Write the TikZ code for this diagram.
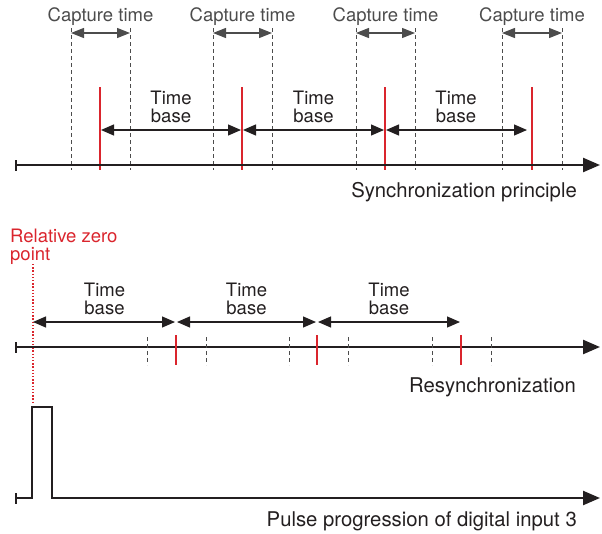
\documentclass[tikz,border=0pt]{standalone}
\usepackage{fontspec}
\setmainfont{TeX Gyre Heros}
\usetikzlibrary{arrows.meta,positioning}
\definecolor{ink}{RGB}{35,31,32}
\definecolor{syncred}{RGB}{218,37,45}

\begin{document}
\begin{tikzpicture}[
  x=1pt,y=-1pt,
  font=\fontsize{18.5}{18}\selectfont,text=ink,
  axis/.style={ink,line width=2.4pt,{Bar[width=11pt,line width=2pt]}-{Triangle[length=17pt,width=14pt]}},
  guide/.style={black!70,line width=1pt,dash pattern=on 4pt off 3pt},
  syncline/.style={syncred,line width=1.6pt},
  capture/.style={black!70,line width=1.2pt,{Triangle[length=13pt,width=10pt]}-{Triangle[length=13pt,width=10pt]}},
  span/.style={ink,line width=1.2pt,{Triangle[length=13pt,width=11pt]}-{Triangle[length=13pt,width=11pt]}},
  caption/.style={anchor=base east,inner sep=0pt,font=\fontsize{20.3}{22}\selectfont},
  twoline/.style={align=center,inner sep=0pt}
]
  \useasboundingbox (0,0) rectangle (602,533);

  % synchronization principle
  \coordinate (s0) at (15,165);
  \coordinate (s1) at (600,165);
  \foreach \i/\a/\b/\r in {1/71/130/100,2/213/272/242,3/356/415/385,4/502/562/532}{
    \draw[guide] (\a,28) -- (\a,170) (\b,28) -- (\b,170);
    \coordinate (cl\i) at (\a,33);
    \coordinate (cr\i) at (\b,33);
    \draw[capture] (cl\i) -- node[above=12pt,anchor=base,inner sep=0pt] (cap\i) {Capture time} (cr\i);
    \coordinate (rt\i) at (\r,87);
    \coordinate (rb\i) at (\r,170);
    \coordinate (r\i) at (\r,130);
    \draw[syncline] (rt\i) -- (rb\i);
  }
  \draw[axis] (s0) -- (s1);
  \coordinate (tbend) at (527,130);
  \draw[span,shorten <=1pt,shorten >=1pt] (r1) -- node[above=7pt,anchor=south,twoline] (tb1) {Time\\base} (r2);
  \draw[span,shorten <=1pt,shorten >=1pt] (r2) -- node[above=7pt,anchor=south,twoline] (tb2) {Time\\base} (r3);
  \draw[span,shorten <=1pt] (r3) -- node[above=7pt,anchor=south,twoline] (tb3) {Time\\base} (tbend);
  \node[caption] (sync) at (577,197) {Synchronization principle};

  % resynchronization
  \node[text=syncred,align=left,anchor=north west,inner sep=0pt] (zero) at (10,229) {Relative zero\\point};
  \coordinate (z0) at (33,264);
  \coordinate (z1) at (33,404);
  \draw[syncred,line width=1.4pt,dash pattern=on 1.4pt off 1.8pt] (z0) -- (z1);
  \coordinate (q0) at (15,347);
  \coordinate (q1) at (600,347);
  \draw[axis] (q0) -- (q1);
  \foreach \a in {147,206,289,348,432,491}
    \draw[guide] (\a,337) -- (\a,365);
  \foreach \i/\r in {1/176,2/317,3/461}{
    \coordinate (k\i) at (\r,322);
    \draw[syncline] (\r,335) -- (\r,365);
  }
  \coordinate (k0) at (33,322);
  \draw[span,shorten >=1pt] (k0) -- node[above=7pt,anchor=south,twoline] (rb1) {Time\\base} (k1);
  \draw[span,shorten <=1pt,shorten >=1pt] (k1) -- node[above=7pt,anchor=south,twoline] (rb2) {Time\\base} (k2);
  \draw[span,shorten <=1pt,shorten >=1pt] (k2) -- node[above=7pt,anchor=south,twoline] (rb3) {Time\\base} (k3);
  \node[caption] (resync) at (576,392) {Resynchronization};

  % pulse of digital input 3
  \coordinate (p0) at (15,498);
  \coordinate (up) at (32,407);
  \coordinate (down) at (52,498);
  \coordinate (p1) at (600,498);
  \draw[axis,line join=miter] (p0) -| (up) -| (down) -- (p1);
  \node[caption] (pulse) at (577,526) {Pulse progression of digital input 3};
\end{tikzpicture}
\end{document}
